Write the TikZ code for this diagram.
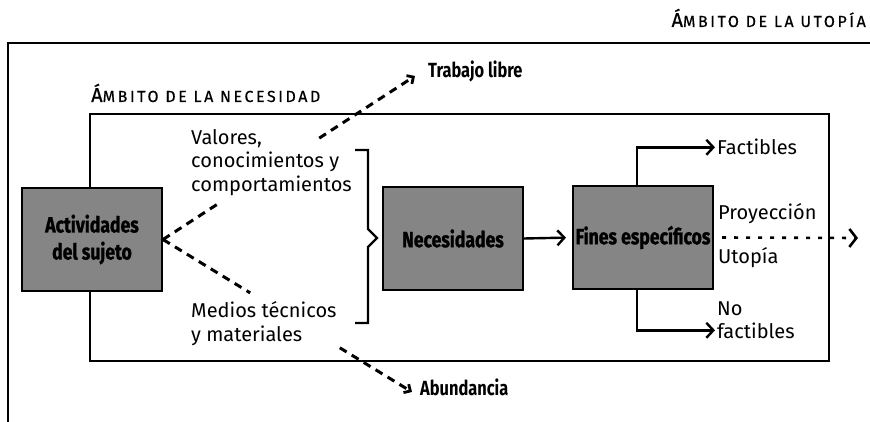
\documentclass[tikz,border=0pt]{standalone}
\usepackage{fontspec}
\setmainfont{Fira Sans}
\newfontfamily\condb[FakeStretch=0.8,BoldFeatures={FakeBold=1.2}]{Fira Sans}
\newfontfamily\condt[FakeStretch=0.8]{Fira Sans}
\newfontfamily\headfont[LetterSpace=16,FakeBold=0.5]{Fira Sans}
\usetikzlibrary{arrows.meta,calc}
\newcommand\fakesc[2]{{\headfont\fontsize{20}{20}\selectfont #1}{\headfont\fontsize{16}{16}\selectfont #2}}
\begin{document}
\begin{tikzpicture}[x=1pt,y=-1pt,
  box/.style={draw=black, line width=2pt, fill=black!48, minimum width=140pt, minimum height=102pt, inner sep=0pt, align=center, text=black, font=\condb\bfseries\fontsize{22}{27}\selectfont},
  txt/.style={anchor=base west, inner sep=0pt, font=\fontsize{20}{23}\selectfont},
  bld/.style={anchor=base west, inner sep=0pt, font=\condt\bfseries\fontsize{20.5}{24}\selectfont},
  head/.style={inner sep=0pt},
  frame/.style={line width=2pt},
  conn/.style={line width=2.4pt},
  dsh/.style={line width=3pt, dash pattern=on 8pt off 6pt},
  dotl/.style={line width=2.6pt, dash pattern=on 4pt off 8pt},
  tipA/.tip={Straight Barb[length=7pt, width=15pt, line width=2.4pt]},
  tipD/.tip={Straight Barb[angle=90:7pt, line width=2.8pt]},
  tipP/.tip={Straight Barb[length=7pt, width=18pt, line width=2.6pt]}
]
\useasboundingbox (0,0) rectangle (870,422);
\clip (0,0) rectangle (870,422);
\fill[white] (0,0) rectangle (870,422);

% frames
\draw[frame] (8,440) -- (8,43) -- (880,43);
\draw[frame] (90,114) rectangle (829,361);

% headings
\node[head, anchor=base east] (hut) at (866,27) {\fakesc{Á}{MBITO DE LA UTOPÍA}};
\node[head, anchor=base west] (hnec) at (91,102) {\fakesc{Á}{MBITO DE LA NECESIDAD}};

% boxes
\node[box] (act) at (92,239.5) {Actividades\\del sujeto};
\node[box] (nec) at (453,238.5) {Necesidades};
\node[box] (fin) at (643,237.5) {Fines específicos};

% texts
\node[txt] (val1) at (191,145) {Valores,};
\node[txt] (val2) at (191,168) {conocimientos y};
\node[txt] (val3) at (191,192) {comportamientos};
\node[txt] (med1) at (191,317) {Medios técnicos};
\node[txt] (med2) at (191,341) {y materiales};
\node[txt] (fact) at (717,155) {Factibles};
\node[txt] (proy) at (718,220) {Proyección};
\node[txt] (utop) at (718,263) {Utopía};
\node[txt] (no) at (717,315) {No};
\node[txt] (nofact) at (717,338) {factibles};
\node[bld] (trab) at (428,78) {Trabajo libre};
\node[bld] (abun) at (420,395) {Abundancia};

% bracket
\draw[conn, line join=miter] (355,150) -- (368,150) -- (368,229) -- (377,238) -- (368,247) -- (368,323) -- (355,323);

% dashed connectors
\coordinate (tlend) at (415,76);
\coordinate (abend) at (412,392);
\fill (act.east) circle (2.2pt);
\draw[dsh] (act.east) -- ($(act.east)!0.22!(tlend)$);
\draw[dsh, -{tipD}] ($(act.east)!0.62!(tlend)$) -- (tlend);
\draw[dsh] (act.east) -- ($(act.east)!0.35!(abend)$);
\draw[dsh, -{tipD}] ($(act.east)!0.71!(abend)$) -- (abend);

% solid connectors
\draw[conn, -{tipA}, shorten >=6pt] (nec.east) -- (fin.west);
\draw[conn, -{tipA}] ([xshift=-6pt]fin.north) |- ([xshift=-2pt]fact.west);
\draw[conn, -{tipA}] ([xshift=-6pt]fin.south) |- ([xshift=-2pt]nofact.west);

% projection
\coordinate (proyend) at (858,238);
\draw[dotl, -{tipP}] ([xshift=8pt]fin.east) -- (proyend);
\end{tikzpicture}
\end{document}
